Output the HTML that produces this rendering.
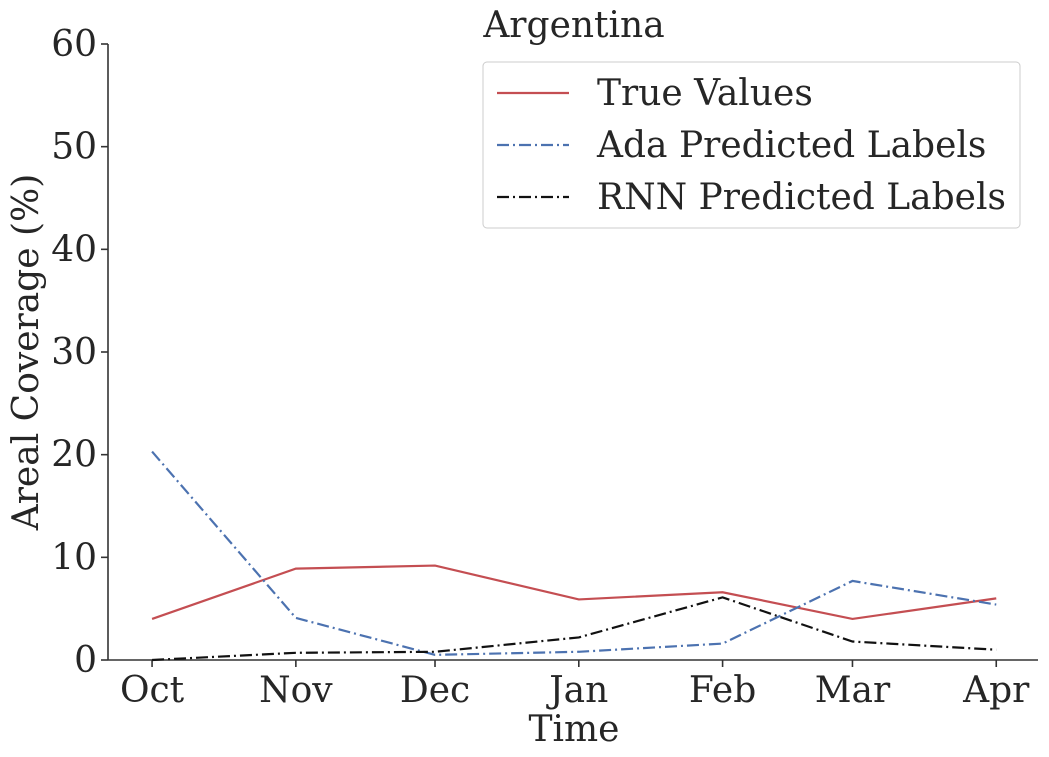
<!DOCTYPE html>
<html><head><meta charset="utf-8"><style>
html,body{margin:0;padding:0;background:#fff;}
svg{display:block;font-family:"DejaVu Serif","Liberation Serif",serif;}
</style></head><body>
<svg id="chart" width="1049" height="757" xmlns="http://www.w3.org/2000/svg"></svg>
<script>
const categories = ["Oct","Nov","Dec","Jan","Feb","Mar","Apr"];
const dayOffsets = [0,31,61,92,123,151,182];
const trueValues = [4.0,8.9,9.2,5.9,6.6,4.0,6.0];
const adaValues = [20.3,4.1,0.5,0.8,1.6,7.7,5.4];
const rnnValues = [0.0,0.7,0.8,2.2,6.1,1.8,1.0];
const yTicks = [0,10,20,30,40,50,60];

const NS="http://www.w3.org/2000/svg";
const svg=document.getElementById('chart');
const L=108,R=1038,T=44,B=660;
const xMin=-9.5,xMax=191,yMin=0,yMax=60;
const FS=36;
function xs(d){return L+(d-xMin)/(xMax-xMin)*(R-L);}
function ys(v){return B-(v-yMin)/(yMax-yMin)*(B-T);}
function mk(tag,attrs,parent){const e=document.createElementNS(NS,tag);for(const k in attrs)e.setAttribute(k,attrs[k]);(parent||svg).appendChild(e);return e;}

const ax=mk('g',{});


mk('line',{x1:L,y1:T,x2:L,y2:B,stroke:'#333',"stroke-width":1.6},ax);
mk('line',{x1:L,y1:B,x2:R,y2:B,stroke:'#333',"stroke-width":1.6},ax);

yTicks.forEach(v=>{
  const y=ys(v);
  mk('line',{x1:L-7,y1:y,x2:L,y2:y,stroke:'#333',"stroke-width":1.6},ax);
  const t=mk('text',{x:L-11,y:y+12,"text-anchor":"end","font-size":FS,fill:'#262626'},ax);
  t.textContent=v;
  
  
});
categories.forEach((c,i)=>{
  const x=xs(dayOffsets[i]);
  mk('line',{x1:x,y1:B,x2:x,y2:B+7,stroke:'#333',"stroke-width":1.6},ax);
  const t=mk('text',{x:x,y:B+42,"text-anchor":"middle","font-size":FS,fill:'#262626'},ax);
  t.textContent=c;
  
  
});
const xt=mk('text',{x:574,y:741,"text-anchor":"middle","font-size":FS,fill:'#262626'});
xt.textContent='Time';


const yt=mk('text',{x:0,y:0,"text-anchor":"middle","font-size":FS,fill:'#262626',transform:'translate(38,352) rotate(-90)'});
yt.textContent='Areal Coverage (%)';


const ti=mk('text',{x:574,y:37,"text-anchor":"middle","font-size":FS,fill:'#262626'});
ti.textContent='Argentina';



function series(vals,color,dash,name){
  const pts=vals.map((v,i)=>xs(dayOffsets[i])+','+ys(v)).join(' ');
  const p=mk('polyline',{points:pts,fill:'none',stroke:color,"stroke-width":2.2,"stroke-dasharray":dash});
  
  
}
series(trueValues,'#c44e52','none','true-values-line');
series(adaValues,'#4c72b0','12,4,2,4','ada-predicted-line');
series(rnnValues,'#111','12,4,2,4','rnn-predicted-line');

const lg=mk('g',{});


mk('rect',{x:483,y:62,width:537,height:166,rx:4,fill:'#fff',stroke:'#ccc',"stroke-width":1},lg);
const entries=[['True Values','#c44e52','none'],['Ada Predicted Labels','#4c72b0','12,4,2,4'],['RNN Predicted Labels','#111','12,4,2,4']];
entries.forEach((e,i)=>{
  const y=93+i*52;
  const g=mk('g',{},lg);
  
  
  mk('line',{x1:497,y1:y,x2:569,y2:y,stroke:e[1],"stroke-width":2.2,"stroke-dasharray":e[2]},g);
  const t=mk('text',{x:597,y:y+12,"font-size":FS,fill:'#262626'},g);
  t.textContent=e[0];
});
</script>
</body></html>
